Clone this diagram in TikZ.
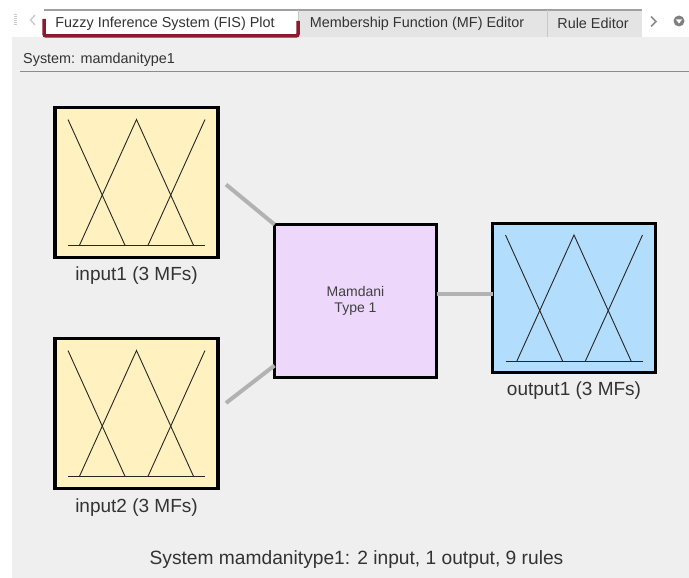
\documentclass[tikz,border=0pt]{standalone}
\usepackage{fontspec}
\setmainfont{Liberation Sans}
\usetikzlibrary{calc}

\definecolor{panelbg}{HTML}{EFEFEF}
\definecolor{tabbg}{HTML}{E4E4E4}
\definecolor{tabedge}{HTML}{A0A0A0}
\definecolor{tabsep}{HTML}{C8C8C8}
\definecolor{tabred}{HTML}{8A1B2F}
\definecolor{txt}{HTML}{333333}
\definecolor{inyellow}{HTML}{FFF2C0}
\definecolor{ruleviolet}{HTML}{EDD8FC}
\definecolor{outblue}{HTML}{B3DDFC}
\definecolor{wire}{HTML}{B2B2B2}

\tikzset{
  fisbox/.style={draw=black, line width=3.2pt, inner sep=0pt, outer sep=0pt},
  mfline/.style={draw=black!85, line width=0.9pt},
  wireline/.style={draw=wire, line width=4pt},
  tabtext/.style={font=\fontsize{14.4}{16}\selectfont, text=txt, inner sep=0pt},
  boxlabel/.style={font=\fontsize{19}{22}\selectfont, text=txt, inner sep=0pt},
  mfs/.pic={
    \draw[mfline] (-68.5,63) -- (68.5,63);
    \draw[mfline] (-68.5,-63) -- (-11.4,63);
    \draw[mfline] (-57.1,63) -- (0,-63) -- (57.1,63);
    \draw[mfline] (11.4,63) -- (68.5,-63);
  }
}

\begin{document}
\begin{tikzpicture}[x=1pt, y=-1pt]
  \useasboundingbox (0,0) rectangle (689,578);
  \fill[white] (0,0) rectangle (689,578);
  \fill[panelbg] (12,37) rectangle (689,578);

  % tab strip
  \fill[tabbg] (298,10) rectangle (642,37);
  \fill[white] (44,10) rectangle (298,37);
  \draw[tabedge, line width=2.5pt] (44,10) -- (642,10);
  \draw[tabsep, line width=0.8pt] (298,10) -- (298,37);
  \draw[tabsep, line width=0.8pt] (547,10) -- (547,37);
  \draw[tabred, line width=3.5pt, rounded corners=2pt] (44,19) -- (44,36) -- (298,36) -- (298,21);

  \node[tabtext] (tab1) at (165,23.5) {Fuzzy Inference System (FIS) Plot};
  \node[tabtext] (tab2) at (417,23.5) {Membership Function (MF) Editor};
  \node[tabtext] (tab3) at (593,23.5) {Rule Editor};

  % grip and scroll arrows
  \draw[tabsep, line width=3pt, dash pattern=on 1pt off 1pt] (15.5,14) -- (15.5,26);
  \draw[tabsep, line width=1.3pt] (35,15) -- (30.5,20) -- (35,25);
  \draw[black!45, line width=1.5pt] (651,16.5) -- (656,21.5) -- (651,26.5);
  \fill[black!50] (679,21) circle (5.5pt);
  \fill[white] (676,19.5) -- (682,19.5) -- (679,23.5) -- cycle;

  % system header
  \node[tabtext, anchor=west] (sysname) at (23,59.5) {System: mamdanitype1};
  \draw[black!45, line width=0.8pt] (20,71) -- (689,71);

  % blocks
  \node[fisbox, fill=inyellow, minimum width=163, minimum height=150] (in1) at (136.5,182.5) {};
  \node[fisbox, fill=inyellow, minimum width=163, minimum height=150] (in2) at (136.5,413.5) {};
  \node[fisbox, fill=ruleviolet, minimum width=162, minimum height=153,
        font=\fontsize{14}{16}\selectfont, text=black!75, align=center] (mam) at (355.5,301) {Mamdani\\Type 1};
  \node[fisbox, fill=outblue, minimum width=163, minimum height=149] (out1) at (574,298) {};

  \pic at (in1.center) {mfs};
  \pic at (in2.center) {mfs};
  \pic at (out1.center) {mfs};

  % labels
  \node[boxlabel] (in1lbl) at (136.5,276) {input1 (3 MFs)};
  \node[boxlabel] (in2lbl) at (136.5,508) {input2 (3 MFs)};
  \node[boxlabel] (out1lbl) at (574,391) {output1 (3 MFs)};

  % connectors
  \coordinate (outy) at (0,294);
  \draw[wireline] ($(in1.east)+(8,2)$) -- (mam.north west);
  \draw[wireline] ($(in2.east)+(8,-10.5)$) -- ([yshift=12pt]mam.south west);
  \draw[wireline] (mam.east |- outy) -- (out1.west |- outy);

  % summary
  \node[boxlabel, font=\fontsize{19.2}{22}\selectfont] (summary) at (356.5,560) {System mamdanitype1: 2 input, 1 output, 9 rules};
\end{tikzpicture}
\end{document}
